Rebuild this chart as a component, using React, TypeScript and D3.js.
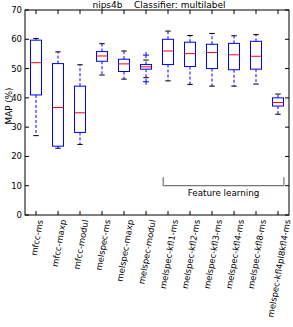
import * as d3 from "d3";
import { useEffect, useRef } from "react";

const categories = [
  "mfcc-ms",
  "mfcc-maxp",
  "mfcc-modul",
  "melspec-ms",
  "melspec-maxp",
  "melspec-modul",
  "melspec-kfl1-ms",
  "melspec-kfl2-ms",
  "melspec-kfl3-ms",
  "melspec-kfl4-ms",
  "melspec-kfl8-ms",
  "melspec-kfl4pl8kfl4-ms",
];
const whiskerLow = [27.1, 22.8, 24.1, 47.8, 46.4, 46.9, 45.8, 44.6, 44.0, 44.0, 44.7, 34.4];
const q1 = [41.0, 23.5, 28.2, 52.5, 49.0, 49.8, 51.4, 50.7, 50.0, 49.6, 49.8, 37.2];
const medians = [52.0, 36.7, 34.9, 54.3, 51.6, 50.6, 56.0, 55.1, 55.5, 54.7, 54.2, 38.4];
const q3 = [59.7, 51.7, 44.0, 55.8, 53.2, 51.4, 60.0, 59.0, 58.3, 58.6, 59.3, 40.0];
const whiskerHigh = [60.3, 55.7, 51.3, 58.5, 56.0, 52.9, 62.8, 61.3, 62.0, 61.2, 61.6, 41.3];
// outliers: [category index, value]
const fliers: [number, number][] = [
  [5, 54.6],
  [5, 45.5],
];
const yTicks = [0, 10, 20, 30, 40, 50, 60, 70];
const groupLabel = "Feature learning";

const W = 293;
const H = 327;
const margin = { left: 25, right: 4, top: 10, bottom: 112 };
const FONT = "DejaVu Sans, sans-serif";

export default function App() {
  const svgRef = useRef<SVGSVGElement>(null);

  useEffect(() => {
    const svg = d3.select(svgRef.current);
    svg.selectAll("*").remove();

    const x = d3
      .scaleLinear()
      .domain([0.5, categories.length + 0.5])
      .range([margin.left, W - margin.right]);
    const y = d3
      .scaleLinear()
      .domain([0, 70])
      .range([H - margin.bottom, margin.top]);

    const x0 = x.range()[0];
    const x1 = x.range()[1];
    const y0 = y.range()[0];
    const y1 = y.range()[1];
    const step = x(2) - x(1);
    const boxW = step * 0.5;
    const capW = boxW * 0.5;

    const g = svg.append("g");

    // boxes
    const boxes = g
      .selectAll("g.box")
      .data(categories)
      .join("g")
      .attr("class", "box");

    boxes.each(function (_, i) {
      const b = d3.select(this);
      const cx = x(i + 1);
      // whiskers
      b.append("line")
        .attr("x1", cx).attr("x2", cx)
        .attr("y1", y(q3[i])).attr("y2", y(whiskerHigh[i]))
        .attr("stroke", "#0000ff").attr("stroke-dasharray", "3,2");
      b.append("line")
        .attr("x1", cx).attr("x2", cx)
        .attr("y1", y(q1[i])).attr("y2", y(whiskerLow[i]))
        .attr("stroke", "#0000ff").attr("stroke-dasharray", "3,2");
      // caps
      [whiskerLow[i], whiskerHigh[i]].forEach((v) => {
        b.append("line")
          .attr("x1", cx - capW / 2).attr("x2", cx + capW / 2)
          .attr("y1", y(v)).attr("y2", y(v))
          .attr("stroke", "#000");
      });
      // box
      b.append("rect")
        .attr("x", cx - boxW / 2)
        .attr("y", y(q3[i]))
        .attr("width", boxW)
        .attr("height", y(q1[i]) - y(q3[i]))
        .attr("fill", "none")
        .attr("stroke", "#0000ff");
      // median
      b.append("line")
        .attr("x1", cx - boxW / 2).attr("x2", cx + boxW / 2)
        .attr("y1", y(medians[i])).attr("y2", y(medians[i]))
        .attr("stroke", "#ff0000");
    });

    // fliers
    const fl = g.selectAll("g.flier").data(fliers).join("g").attr("class", "flier");
    fl.append("path")
      .attr("d", (d) => {
        const cx = x(d[0] + 1);
        const cy = y(d[1]);
        return `M${cx - 3},${cy}H${cx + 3}M${cx},${cy - 3}V${cy + 3}`;
      })
      .attr("stroke", "#0000ff");

    // frame
    g.append("rect")
      .attr("x", x0).attr("y", y1)
      .attr("width", x1 - x0).attr("height", y0 - y1)
      .attr("fill", "none").attr("stroke", "#000");

    // y ticks (inward, both sides)
    yTicks.forEach((t) => {
      g.append("line").attr("x1", x0).attr("x2", x0 + 4).attr("y1", y(t)).attr("y2", y(t)).attr("stroke", "#000");
      g.append("line").attr("x1", x1).attr("x2", x1 - 4).attr("y1", y(t)).attr("y2", y(t)).attr("stroke", "#000");
      g.append("text")
        .attr("x", x0 - 3).attr("y", y(t))
        .attr("dy", "0.35em")
        .attr("text-anchor", "end")
        .attr("font-family", FONT).attr("font-size", 8.5)
        .text(t);
    });

    // x ticks + rotated labels
    const angle = 80;
    const rad = (angle * Math.PI) / 180;
    categories.forEach((c, i) => {
      const cx = x(i + 1);
      g.append("line").attr("x1", cx).attr("x2", cx).attr("y1", y0).attr("y2", y0 - 4).attr("stroke", "#000");
      g.append("line").attr("x1", cx).attr("x2", cx).attr("y1", y1).attr("y2", y1 + 4).attr("stroke", "#000");
      const t = g.append("text")
        .attr("font-family", FONT).attr("font-size", 8.5)
        .attr("text-anchor", "middle")
        .attr("dominant-baseline", "central")
        .text(c);
      const w = (t.node() as SVGTextElement).getComputedTextLength();
      const h = 8.5;
      const ext = w * Math.sin(rad) + h * Math.cos(rad);
      const cy = y0 + 4 + ext / 2;
      t.attr("transform", `translate(${cx + 1},${cy}) rotate(${-angle})`);
    });

    // y label
    g.append("text")
      .attr("transform", `translate(9,106) rotate(-90)`)
      .attr("text-anchor", "middle")
      .attr("dominant-baseline", "central")
      .attr("font-family", FONT).attr("font-size", 8.75)
      .text("MAP (%)");

    // title
    g.append("text")
      .attr("x", (x0 + x1) / 2 + 2).attr("y", y1 - 2)
      .attr("text-anchor", "middle")
      .attr("font-family", FONT).attr("font-size", 9)
      .style("white-space", "pre")
      .text("nips4b    Classifier: multilabel");

    // group bracket
    const bx0 = x(6.78);
    const bx1 = x(12.27);
    g.append("path")
      .attr("d", `M${bx0},${y(12.9)}V${y(10)}H${bx1}V${y(12.9)}`)
      .attr("fill", "none")
      .attr("stroke", "#555");
    g.append("text")
      .attr("x", (bx0 + bx1) / 2).attr("y", y(6.6))
      .attr("text-anchor", "middle")
      .attr("font-family", FONT).attr("font-size", 8.75)
      .text(groupLabel);
  }, []);

  return (
    <svg
      ref={svgRef}
      width={W}
      height={H}
      style={{ position: "fixed", left: 0, top: 0, background: "#fff" }}
    />
  );
}
